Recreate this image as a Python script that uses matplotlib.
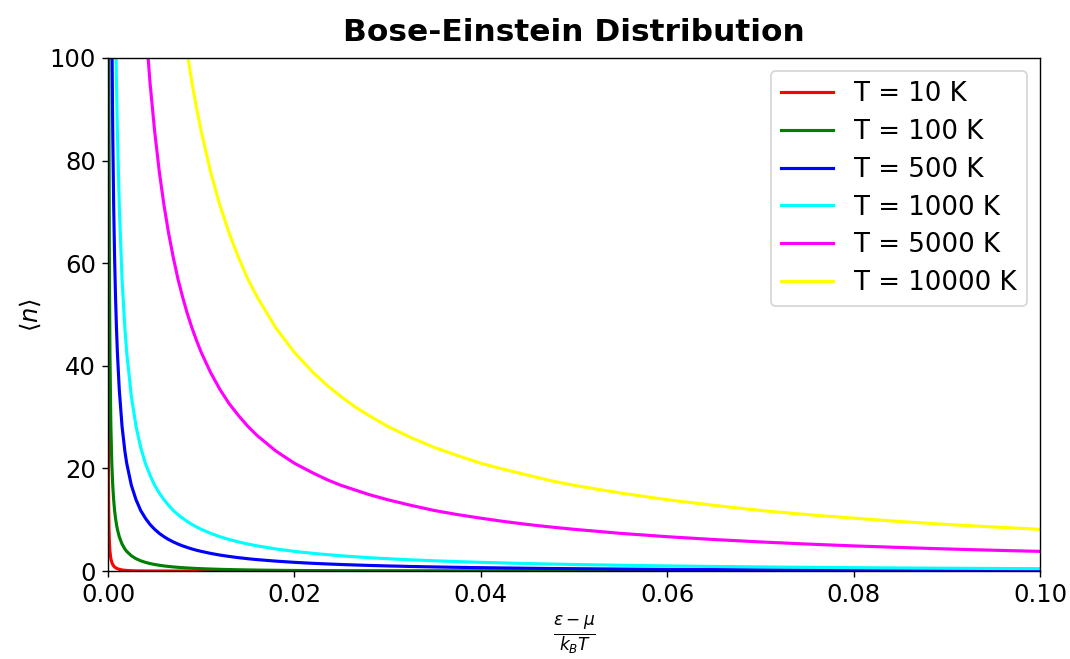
import matplotlib
matplotlib.use("Agg")
import matplotlib.pyplot as plt

energies = [0.000005, 0.00001, 0.00002, 0.00003, 0.00005, 0.00007, 0.0001,
            0.00015, 0.0002, 0.0003, 0.0004, 0.0005, 0.0006, 0.0007,
            0.0008, 0.0009, 0.001, 0.0012, 0.0015, 0.0018, 0.002,
            0.0025, 0.003, 0.0035, 0.004, 0.0045, 0.005, 0.0055,
            0.006, 0.0065, 0.007, 0.0075, 0.008, 0.0085, 0.009,
            0.0095, 0.01, 0.011, 0.012, 0.013, 0.014, 0.015,
            0.016, 0.018, 0.02, 0.022, 0.0235, 0.025, 0.0265,
            0.028, 0.03, 0.0325, 0.035, 0.0375, 0.04, 0.0425,
            0.045, 0.0475, 0.05, 0.055, 0.06, 0.065, 0.07,
            0.075, 0.08, 0.085, 0.09, 0.095, 0.1]

temperatures = [10, 100, 500, 1000, 5000, 10000]
colors = ["red", "green", "blue", "cyan", "magenta", "yellow"]

n_10 = [172, 85.7, 42.6, 28.2, 16.7, 11.8, 8.13,
        5.26, 3.83, 2.40, 1.693, 1.271, 0.994, 0.798,
        0.653, 0.543, 0.456, 0.331, 0.213, 0.141, 0.109,
        0.058, 0.0317, 0.0175, 0.0097, 0.0054, 0.003, 0.0017,
        0.00095, 0, 0, 0, 0, 0, 0,
        0, 0, 0, 0, 0, 0, 0,
        0, 0, 0, 0, 0, 0, 0,
        0, 0, 0, 0, 0, 0, 0,
        0, 0, 0, 0, 0, 0, 0,
        0, 0, 0, 0, 0, 0]
n_100 = [1723, 861, 430, 287, 172, 123, 85.7,
         56.9, 42.6, 28.2, 21.0, 16.7, 13.9, 11.8,
         10.3, 9.08, 8.13, 6.69, 5.26, 4.30, 3.83,
         2.97, 2.40, 1.996, 1.693, 1.458, 1.271, 1.120,
         0.994, 0.888, 0.798, 0.721, 0.653, 0.595, 0.543,
         0.497, 0.456, 0.387, 0.331, 0.284, 0.245, 0.213,
         0.185, 0.141, 0.109, 0.084, 0.070, 0.058, 0.048,
         0.0404, 0.0317, 0.0236, 0.0175, 0.013, 0.0097, 0.0072,
         0.0054, 0.004, 0.003, 0.0017, 0.00095, 0.0005, 0.0003,
         0.00017, 0.0001, 0.00005, 0.00003, 0.00002, 0.00001]
n_500 = [8617, 4308, 2154, 1436, 861, 615, 430,
         287, 215, 143, 107.2, 85.7, 71.3, 61.1,
         53.4, 47.4, 42.6, 35.4, 28.2, 23.4, 21.0,
         16.7, 13.9, 11.8, 10.3, 9.08, 8.13, 7.34,
         6.69, 6.14, 5.67, 5.26, 4.90, 4.59, 4.30,
         4.05, 3.83, 3.44, 3.11, 2.84, 2.60, 2.40,
         2.22, 1.93, 1.693, 1.50, 1.379, 1.271, 1.177,
         1.092, 0.994, 0.888, 0.798, 0.721, 0.653, 0.595,
         0.543, 0.497, 0.456, 0.387, 0.331, 0.284, 0.245,
         0.213, 0.185, 0.162, 0.141, 0.124, 0.109]
n_1000 = [17234, 8617, 4308, 2872, 1723, 1231, 861,
          574, 430, 287, 215, 172, 143, 123,
          107.2, 95.2, 85.7, 71.3, 56.9, 47.4, 42.6,
          34.0, 28.2, 24.1, 21.0, 18.7, 16.7, 15.2,
          13.9, 12.8, 11.8, 11.0, 10.3, 9.65, 9.08,
          8.58, 8.13, 7.34, 6.69, 6.14, 5.67, 5.26,
          4.90, 4.30, 3.83, 3.44, 3.19, 2.97, 2.78,
          2.60, 2.40, 2.18, 1.996, 1.834, 1.693, 1.569,
          1.458, 1.360, 1.271, 1.120, 0.994, 0.888, 0.798,
          0.721, 0.653, 0.595, 0.543, 0.497, 0.456]
n_5000 = [86173, 43087, 21543, 14362, 8617, 6155, 4308,
          2872, 2154, 1436, 1077, 861, 718, 615,
          538, 478, 430, 359, 287, 239, 215,
          172, 143, 123, 107.2, 95.2, 85.7, 77.8,
          71.3, 65.8, 61.1, 56.9, 53.4, 50.2, 47.4,
          44.9, 42.6, 38.7, 35.4, 32.6, 30.3, 28.2,
          26.4, 23.4, 21.0, 19.1, 17.8, 16.7, 15.8,
          14.9, 13.9, 12.8, 11.8, 11.0, 10.3, 9.65,
          9.08, 8.58, 8.13, 7.34, 6.69, 6.14, 5.67,
          5.26, 4.90, 4.59, 4.30, 4.05, 3.83]
n_10000 = [172346, 86173, 43086, 28724, 17234, 12310, 8617,
           5744, 4308, 2872, 2154, 1723, 1436, 1231,
           1077, 957, 861, 718, 574, 478, 430,
           344, 287, 246, 215, 191, 172, 156,
           143, 132, 123, 114.4, 107.2, 100.9, 95.2,
           90.2, 85.7, 77.8, 71.3, 65.8, 61.1, 56.9,
           53.4, 47.4, 42.6, 38.7, 36.2, 34.0, 32.0,
           30.3, 28.2, 26.0, 24.1, 22.5, 21.0, 19.8,
           18.7, 17.6, 16.7, 15.2, 13.9, 12.8, 11.8,
           11.0, 10.3, 9.65, 9.08, 8.58, 8.13]

series = [n_10, n_100, n_500, n_1000, n_5000, n_10000]

fig, ax = plt.subplots(figsize=(8.56, 5.272), dpi=125)
fig.subplots_adjust(left=0.101, right=0.972, top=0.912, bottom=0.1335)

for T, c, n in zip(temperatures, colors, series):
    ax.plot(energies, n, color=c, lw=1.8, label=f"T = {T} K")

ax.set_xlim(0, 0.1)
ax.set_ylim(0, 100)
ax.set_title("Bose-Einstein Distribution", fontsize=18, fontweight="bold", pad=10)
ax.set_xlabel(r"$\frac{\epsilon - \mu}{k_B T}$", fontsize=14)
ax.set_ylabel(r"$\langle n \rangle$", fontsize=14)
ax.tick_params(labelsize=14)
ax.legend(fontsize=15, labelspacing=0.45)

fig.savefig("out.png", dpi=125)
